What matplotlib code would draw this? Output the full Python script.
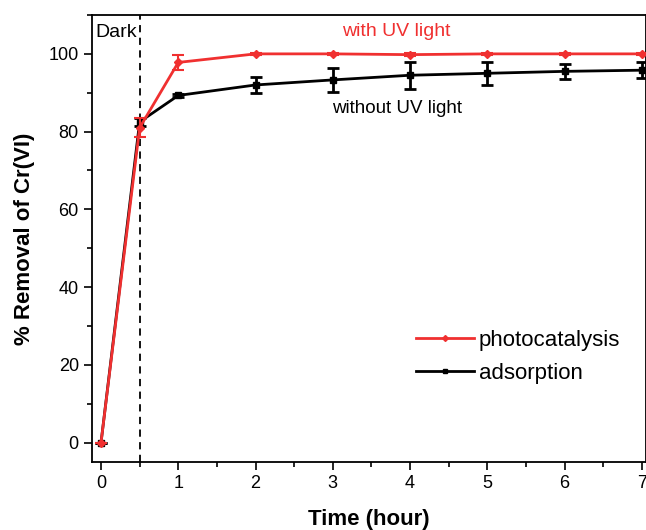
import matplotlib
matplotlib.use("Agg")
import matplotlib.pyplot as plt
from matplotlib.ticker import MultipleLocator
from matplotlib.lines import Line2D

plt.rcParams['font.family'] = ['Liberation Sans', 'DejaVu Sans']

# removal of Cr(VI) over time
time_h = [0, 0.5, 1, 2, 3, 4, 5, 6, 7]
photo = [0, 81, 97.8, 100, 100, 99.8, 100, 100, 100]
photo_err = [0, 2.5, 2, 0.3, 0.3, 0.3, 0.3, 0.3, 0.3]
adsorb = [0, 82.5, 89.3, 92, 93.3, 94.5, 95, 95.5, 95.8]
adsorb_err = [0, 1, 0.5, 2, 3, 3.5, 3, 2, 2]

red = '#f03030'

fig = plt.figure(figsize=(6.46, 5.30), dpi=100)
ax = fig.add_axes([0.1424, 0.1283, 0.857, 0.8434])

ax.errorbar(time_h, photo, yerr=photo_err, color=red, lw=2, marker='D', ms=4,
            capsize=4, capthick=1.5, elinewidth=1.5, zorder=3)
ax.errorbar(time_h, adsorb, yerr=adsorb_err, color='black', lw=2, marker='s', ms=4,
            capsize=4, capthick=2, elinewidth=2, zorder=2)

ax.axvline(0.5, color='black', ls=(0, (4, 3)), lw=1.3)
ax.text(0.47, 105.6, 'Dark', ha='right', va='center', fontsize=14)
ax.text(3.82, 105.8, 'with UV light', color=red, ha='center', va='center', fontsize=14)
ax.text(3.83, 86, 'without UV light', color='black', ha='center', va='center', fontsize=13.5)

ax.set_xlim(-0.117, 7.05)
ax.set_ylim(-5, 110)
ax.xaxis.set_major_locator(MultipleLocator(1))
ax.xaxis.set_minor_locator(MultipleLocator(0.5))
ax.yaxis.set_major_locator(MultipleLocator(20))
ax.yaxis.set_minor_locator(MultipleLocator(10))
ax.tick_params(which='major', direction='out', length=6, width=1.2, labelsize=13)
ax.tick_params(which='minor', direction='out', length=3.5, width=1.2)
for s in ax.spines.values():
    s.set_linewidth(1.3)

ax.set_xlabel('Time (hour)', fontsize=16, fontweight='bold', labelpad=12)
ax.set_ylabel('% Removal of Cr(VI)', fontsize=16, fontweight='bold', labelpad=10)

handles = [Line2D([], [], color=red, lw=2, marker='D', ms=3),
           Line2D([], [], color='black', lw=2, marker='s', ms=3)]
ax.legend(handles, ['photocatalysis', 'adsorption'], loc='lower right',
          bbox_to_anchor=(0.99, 0.13), frameon=False, fontsize=16,
          handlelength=2.6, handletextpad=0.2, labelspacing=0.55)

fig.savefig('out.png', dpi=100)
